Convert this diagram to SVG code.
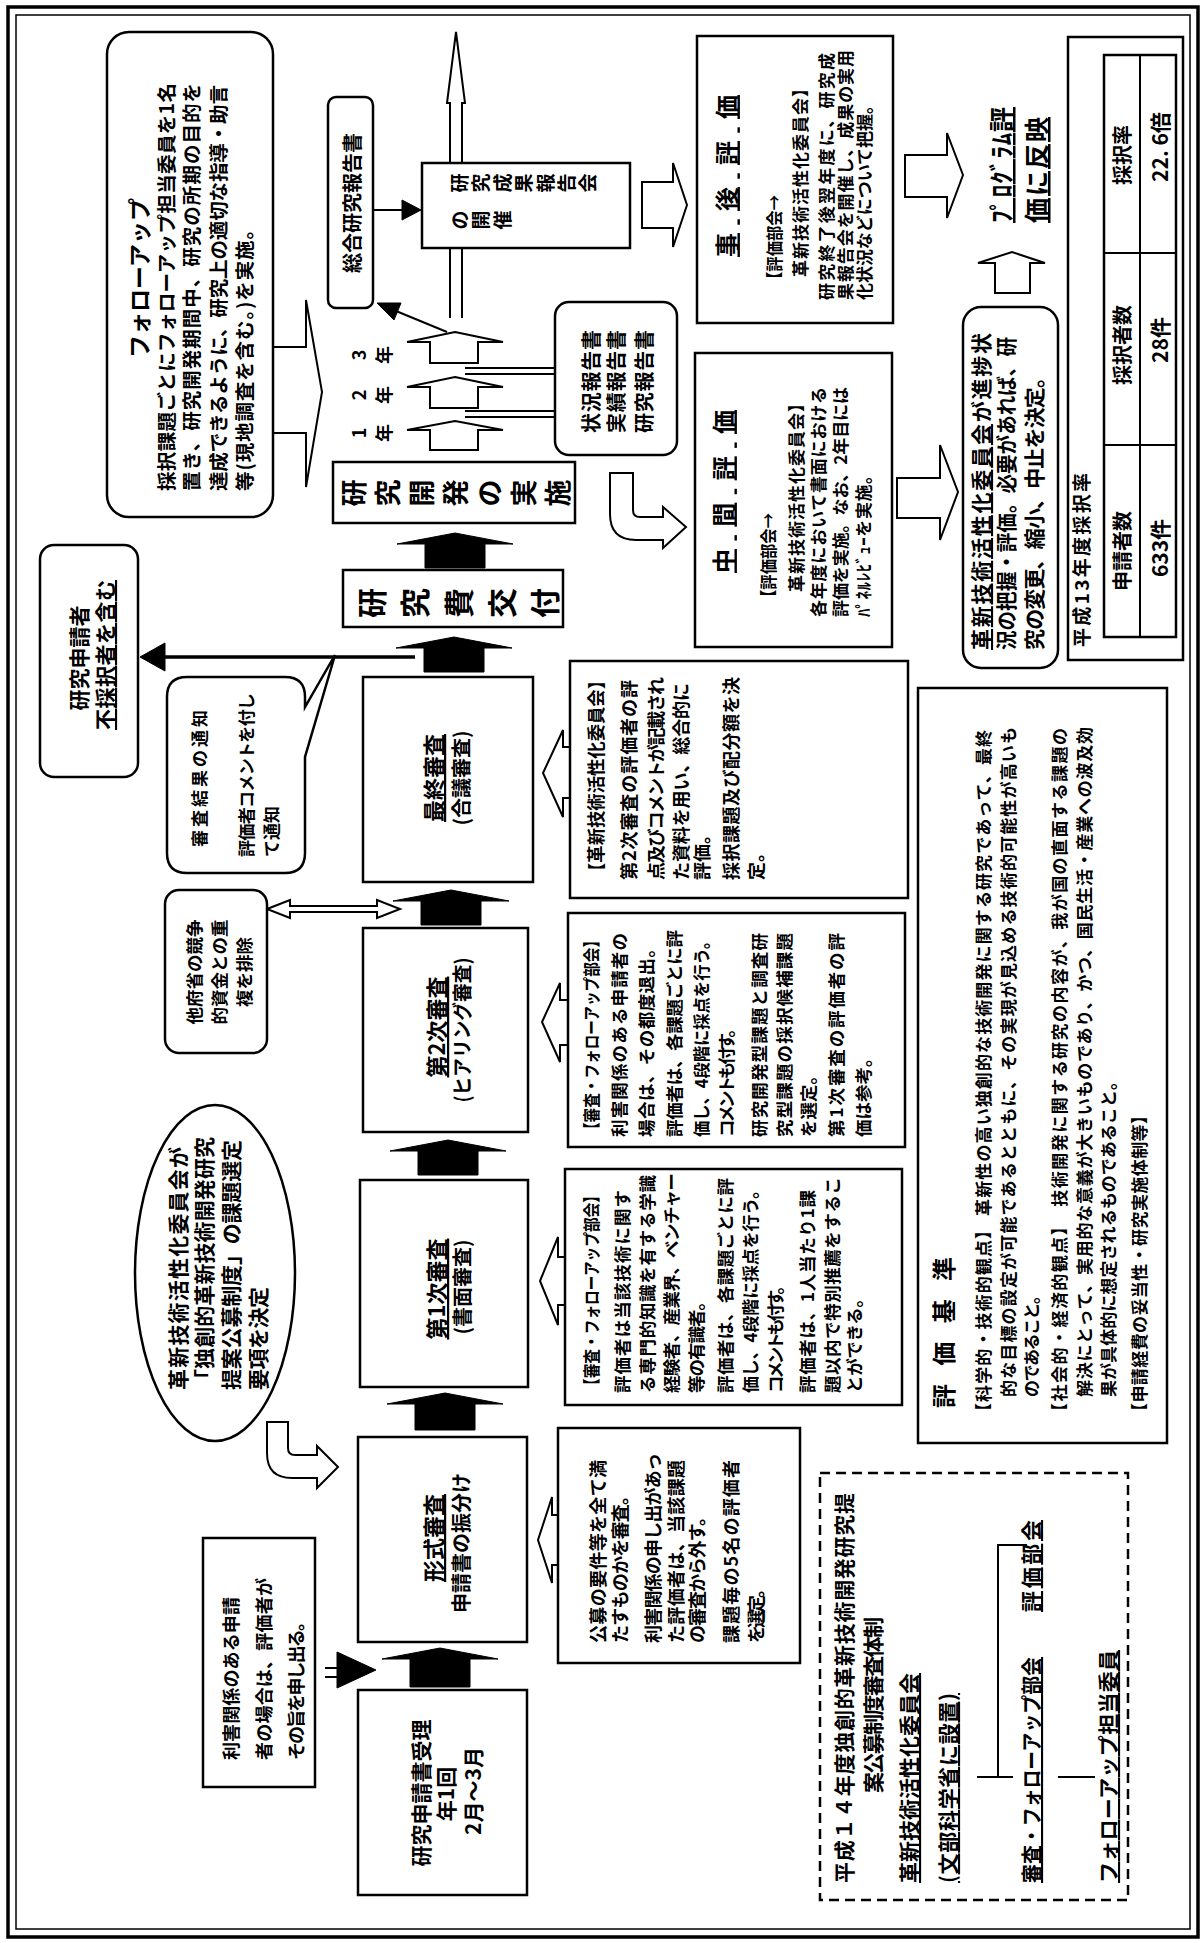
<svg xmlns="http://www.w3.org/2000/svg" width="1204" height="1943" viewBox="0 0 1204 1943">
<defs>
<style>
.t{font-family:'Noto Sans CJK JP','Noto Sans CJK SC',sans-serif;font-weight:700;dominant-baseline:central;fill:#000}
.b{fill:#fff;stroke:#000;stroke-width:2.5}
.h{fill:#fff;stroke:#000;stroke-width:2;stroke-linejoin:miter}
.k{fill:#000;stroke:#000;stroke-width:1}
.ln{fill:none;stroke:#000;stroke-width:2}
.u{text-decoration:underline}
.m{text-anchor:middle}
</style>
</defs>
<rect width="1204" height="1943" fill="#fff"/>
<g id="border">
<rect x="8" y="7" width="1190" height="1930" fill="none" stroke="#000" stroke-width="3.5"/>
<rect x="16" y="15" width="1174" height="1914" fill="none" stroke="#000" stroke-width="1.5"/>
</g>
<g id="connectors">
<path class="h" d="M450,318 L450,103 L447,103 L456,32 L465,103 L462,103 L462,318"/>
<path class="h" d="M273,347 L306,347 L306,300 L322,392 L306,487 L306,433 L273,433"/>
<path class="ln" d="M373,210 L404,210"/><polygon class="k" points="402,200 421,210 402,220"/>
<path class="ln" d="M447,332 L396,311"/><polygon class="k" points="377,303 401,303 394,320"/>
<path class="h" d="M642,182 L673,182 L673,163 L687,205 L673,247 L673,228 L642,228 Z"/>
<path class="ln" d="M465,368 L557,368 M465,374 L557,374 M465,411 L557,411 M465,417 L557,417"/>
<polygon class="h" points="455,332 503,342 478,342 478,363 430,363 430,342 407,342"/>
<polygon class="h" points="455,377 503,387 478,387 478,408 430,408 430,387 407,387"/>
<polygon class="h" points="455,421 503,430 478,430 478,450 430,450 430,430 407,430"/>
<path class="h" d="M610,473 L633,473 L633,510 Q633,517 640,517 L663,517 L663,507 L686,527 L663,548 L663,540 L636,540 Q610,540 610,514 Z"/>
<polygon class="k" points="455,533 513,544 485,544 485,568 425,568 425,544 397,544"/>
<polygon class="k" points="454,637 512,648 484,648 484,672 424,672 424,648 396,648"/>
<polygon class="k" points="451,890 509,901 481,901 481,925 421,925 421,901 393,901"/>
<polygon class="k" points="448,1140 506,1151 478,1151 478,1175 418,1175 418,1151 390,1151"/>
<polygon class="k" points="445,1393 503,1404 475,1404 475,1430 415,1430 415,1404 387,1404"/>
<polygon class="k" points="440,1648 498,1659 470,1659 470,1687 410,1687 410,1659 382,1659"/>
<path d="M415,657 L160,657" fill="none" stroke="#000" stroke-width="3.5"/><polygon class="k" points="140,657 165,643 165,671"/>
<path class="ln" d="M325,1668 L339,1668 M325,1677 L339,1677"/><polygon class="k" points="337,1652 376,1670 337,1688"/>
<path class="h" d="M267,1422 L288,1422 L288,1448 Q288,1455 295,1455 L317,1455 L317,1446 L338,1467 L317,1488 L317,1478 L292,1478 Q267,1478 267,1453 Z"/>
<path class="h" d="M570,747 L563,747 L563,730 L543,773 L563,817 L563,798 L570,798"/>
<path class="h" d="M568,1000 L560,1000 L560,983 L542,1022 L560,1062 L560,1045 L568,1045"/>
<path class="h" d="M565,1257 L558,1257 L558,1237 L540,1281 L558,1325 L558,1305 L565,1305"/>
<path class="h" d="M558,1515 L552,1515 L552,1497 L538,1540 L552,1583 L552,1565 L558,1565"/>
<path class="h" d="M267,909 L290,900 L290,906 L377,906 L377,900 L400,909 L377,918 L377,912 L290,912 L290,918 Z"/>
<path class="h" d="M897,478 L940,478 L940,445 L958,492 L940,540 L940,518 L897,518 Z"/>
<path class="h" d="M905,155 L947,155 L947,133 L963,175 L947,218 L947,197 L905,197 Z"/>
<path class="h" d="M995,293 L995,263 L978,263 L1012,252 L1045,263 L1030,263 L1030,293 Z"/>
<path class="ln" d="M977,1777 L1013,1777 M998,1777 L998,1545 L1027,1545 M1058,1777 L1095,1777"/>
</g>
<g id="followup">
<rect class="b" x="107" y="32" width="166" height="485" rx="22"/>
<g transform="matrix(0,-1,1,0,0,1943)">
<text class="t m" x="1665" y="138" font-size="23">フォローアップ</text>
<text class="t" x="1452" y="165" font-size="19.5" textLength="408">採択課題ごとにフォローアップ担当委員を1名</text>
<text class="t" x="1452" y="190" font-size="19.5" textLength="408">置き、研究開発期間中、研究の所期の目的を</text>
<text class="t" x="1452" y="217" font-size="19.5" textLength="406">達成できるように、研究上の適切な指導・助言</text>
<text class="t" x="1452" y="243" font-size="19.5" textLength="271">等(現地調査を含む。)を実施。</text>
</g>
</g>
<g id="sogo">
<rect class="b" x="328" y="97" width="45" height="211" rx="8"/>
<g transform="matrix(0,-1,1,0,0,1943)"><text class="t m" x="1740" y="351" font-size="20">総合研究報告書</text></g>
</g>
<g id="houkokukai">
<rect class="b" x="422" y="163" width="208" height="85"/>
<g transform="matrix(0,-1,1,0,0,1943)">
<text class="t m" font-size="19"><tspan x="1760" y="458">研</tspan><tspan x="1760" y="479">究</tspan><tspan x="1760" y="501">成</tspan><tspan x="1760" y="522">果</tspan><tspan x="1760" y="544">報</tspan><tspan x="1760" y="565">告</tspan><tspan x="1760" y="586">会</tspan></text>
<text class="t m" font-size="19"><tspan x="1723" y="458">の</tspan><tspan x="1723" y="479">開</tspan><tspan x="1723" y="501">催</tspan></text>
</g>
</g>
<g id="years">
<g transform="matrix(0,-1,1,0,0,1943)">
<text class="t m" font-size="18"><tspan x="1510" y="358">1</tspan><tspan x="1510" y="383">年</tspan></text>
<text class="t m" font-size="18"><tspan x="1548" y="358">2</tspan><tspan x="1548" y="383">年</tspan></text>
<text class="t m" font-size="18"><tspan x="1588" y="358">3</tspan><tspan x="1588" y="383">年</tspan></text>
</g>
</g>
<g id="jokyo">
<rect class="b" x="555" y="302" width="122" height="153" rx="14"/>
<g transform="matrix(0,-1,1,0,0,1943)">
<text class="t" x="1510" y="590" font-size="20" textLength="103">状況報告書</text>
<text class="t" x="1510" y="615" font-size="20" textLength="103">実績報告書</text>
<text class="t" x="1510" y="643" font-size="20" textLength="103">研究報告書</text>
</g>
</g>
<g id="jigo">
<rect class="b" x="697" y="36" width="196" height="287"/>
<g transform="matrix(0,-1,1,0,0,1943)">
<text class="t u" x="1686" y="725" font-size="24" textLength="162">事 後 評 価</text>
<text class="t" x="1656" y="773" font-size="17" textLength="92" lengthAdjust="spacingAndGlyphs">【評価部会→</text>
<text class="t" x="1666" y="799" font-size="17" textLength="197">革新技術活性化委員会】</text>
<text class="t" x="1643" y="825" font-size="17" textLength="247">研究終了後翌年度に、研究成</text>
<text class="t" x="1643" y="844" font-size="17" textLength="250">果報告会を開催し、成果の実用</text>
<text class="t" x="1643" y="863" font-size="17" textLength="203">化状況などについて把握。</text>
</g>
</g>
<g id="jisshi">
<rect class="b" x="333" y="462" width="242" height="61"/>
<g transform="matrix(0,-1,1,0,0,1943)">
<text class="t m" font-size="27"><tspan x="1450" y="352">研</tspan><tspan x="1450" y="386">究</tspan><tspan x="1450" y="420">開</tspan><tspan x="1450" y="454">発</tspan><tspan x="1450" y="488">の</tspan><tspan x="1450" y="522">実</tspan><tspan x="1450" y="556">施</tspan></text>
</g>
</g>
<g id="kofu">
<rect class="b" x="343" y="570" width="220" height="57"/>
<g transform="matrix(0,-1,1,0,0,1943)">
<text class="t m" font-size="30"><tspan x="1340" y="370">研</tspan><tspan x="1340" y="413">究</tspan><tspan x="1340" y="457">費</tspan><tspan x="1340" y="500">交</tspan><tspan x="1340" y="543">付</tspan></text>
</g>
</g>
<g id="chukan">
<rect class="b" x="695" y="353" width="197" height="294"/>
<g transform="matrix(0,-1,1,0,0,1943)">
<text class="t u" x="1370" y="722" font-size="24" textLength="163">中 間 評 価</text>
<text class="t" x="1338" y="767" font-size="17" textLength="92" lengthAdjust="spacingAndGlyphs">【評価部会→</text>
<text class="t" x="1351" y="795" font-size="17" textLength="197">革新技術活性化委員会】</text>
<text class="t" x="1326" y="817" font-size="17" textLength="230">各年度において書面における</text>
<text class="t" x="1326" y="839" font-size="17" textLength="230">評価を実施。なお、2年目には</text>
<text class="t" x="1326" y="862" font-size="17" textLength="150">ﾊﾟﾈﾙﾚﾋﾞｭｰを実施。</text>
</g>
</g>
<g id="shinchoku">
<rect class="b" x="963" y="307" width="95" height="361" rx="18"/>
<g transform="matrix(0,-1,1,0,0,1943)">
<text class="t" x="1293" y="980" font-size="21" textLength="317"><tspan class="u">革新技術活性化委員会</tspan>が進捗状</text>
<text class="t" x="1293" y="1005" font-size="21" textLength="313" lengthAdjust="spacingAndGlyphs">況の把握・評価。必要があれば、研</text>
<text class="t" x="1293" y="1033" font-size="21" textLength="283">究の変更、縮小、中止を決定。</text>
</g>
</g>
<g id="program">
<g transform="matrix(0,-1,1,0,0,1943)">
<text class="t u" x="1720" y="1000" font-size="25" textLength="116">ﾌﾟﾛｸﾞﾗﾑ評</text>
<text class="t u" x="1720" y="1035" font-size="25" textLength="106">価に反映</text>
</g>
</g>
<g id="saitaku">
<rect class="b" x="1068" y="37" width="115" height="623"/>
<rect class="b" x="1104" y="55" width="72" height="582" stroke-width="3"/>
<path class="ln" d="M1140,55 L1140,637 M1104,253 L1176,253 M1104,445 L1176,445" stroke-width="2.5"/>
<g transform="matrix(0,-1,1,0,0,1943)">
<text class="t" x="1296" y="1080" font-size="19" font-weight="500" textLength="174">平成13年度採択率</text>
<text class="t m" x="1392" y="1121" font-size="20">申請者数</text>
<text class="t m" x="1598" y="1121" font-size="20">採択者数</text>
<text class="t m" x="1788" y="1121" font-size="20">採択率</text>
<text class="t m" x="1395" y="1159" font-size="21">633件</text>
<text class="t m" x="1603" y="1159" font-size="21">28件</text>
<text class="t m" x="1796" y="1159" font-size="21">22. 6倍</text>
</g>
</g>
<g id="kijun">
<rect class="b" x="918" y="688" width="249" height="755"/>
<g transform="matrix(0,-1,1,0,0,1943)">
<text class="t" x="535" y="942" font-size="24" textLength="151">評　価　基　準</text>
<text class="t" x="523" y="982" font-size="17" textLength="690">【科学的・技術的観点】 革新性の高い独創的な技術開発に関する研究であって、最終</text>
<text class="t" x="546" y="1007" font-size="17" textLength="670">的な目標の設定が可能であるとともに、その実現が見込める技術的可能性が高いも</text>
<text class="t" x="546" y="1030" font-size="17" textLength="110">のであること。</text>
<text class="t" x="523" y="1058" font-size="17" textLength="692">【社会的・経済的観点】　技術開発に関する研究の内容が、我が国の直面する課題の</text>
<text class="t" x="546" y="1083" font-size="17" textLength="670">解決にとって、実用的な意義が大きいものであり、かつ、国民生活・産業への波及効</text>
<text class="t" x="546" y="1107" font-size="17" textLength="324">果が具体的に想定されるものであること。</text>
<text class="t" x="523" y="1138" font-size="17" textLength="313">【申請経費の妥当性・研究実施体制等】</text>
</g>
</g>
<g id="taisei">
<rect x="820" y="1473" width="308" height="427" fill="none" stroke="#000" stroke-width="2.5" stroke-dasharray="10 6"/>
<g transform="matrix(0,-1,1,0,0,1943)">
<text class="t" x="60" y="843" font-size="21" textLength="390">平成１４年度独創的革新技術開発研究提</text>
<text class="t" x="150" y="872" font-size="21" textLength="176">案公募制度審査体制</text>
<text class="t u" x="60" y="908" font-size="21" textLength="210">革新技術活性化委員会</text>
<text class="t u" x="60" y="947" font-size="21" textLength="190">(文部科学省に設置)</text>
<text class="t u" x="60" y="1030" font-size="21" textLength="226" lengthAdjust="spacingAndGlyphs">審査・フォローアップ部会</text>
<text class="t u" x="331" y="1030" font-size="21" textLength="92">評価部会</text>
<text class="t u" x="60" y="1107" font-size="21" textLength="233">フォローアップ担当委員</text>
</g>
</g>
<g id="juri">
<rect class="b" x="358" y="1690" width="169" height="205"/>
<g transform="matrix(0,-1,1,0,0,1943)">
<text class="t m" x="150" y="420" font-size="21">研究申請書受理</text>
<text class="t m" x="149" y="445" font-size="21">年1回</text>
<text class="t m" x="152" y="472" font-size="21">2月～3月</text>
</g>
</g>
<g id="keishiki">
<rect class="b" x="358" y="1437" width="169" height="205"/>
<g transform="matrix(0,-1,1,0,0,1943)">
<text class="t m u" x="405" y="432" font-size="22">形式審査</text>
<text class="t m" x="400" y="460" font-size="20">申請書の振分け</text>
</g>
</g>
<g id="shinsa1">
<rect class="b" x="360" y="1180" width="168" height="207"/>
<g transform="matrix(0,-1,1,0,0,1943)">
<text class="t m u" x="654" y="435" font-size="22">第1次審査</text>
<text class="t m" x="656" y="461" font-size="20">(書面審査)</text>
</g>
</g>
<g id="shinsa2">
<rect class="b" x="363" y="928" width="165" height="204"/>
<g transform="matrix(0,-1,1,0,0,1943)">
<text class="t m u" x="916" y="435" font-size="22">第2次審査</text>
<text class="t m" x="913" y="461" font-size="20" textLength="145" lengthAdjust="spacingAndGlyphs">(ヒアリング審査)</text>
</g>
</g>
<g id="saishu">
<rect class="b" x="363" y="677" width="170" height="205"/>
<g transform="matrix(0,-1,1,0,0,1943)">
<text class="t m u" x="1165" y="432" font-size="22">最終審査</text>
<text class="t m" x="1165" y="460" font-size="20">(合議審査)</text>
</g>
</g>
<g id="rigai">
<rect class="b" x="203" y="1538" width="112" height="249"/>
<g transform="matrix(0,-1,1,0,0,1943)">
<text class="t" x="183" y="230" font-size="18" textLength="163">利害関係のある申請</text>
<text class="t" x="183" y="263" font-size="18" textLength="182">者の場合は、評価者が</text>
<text class="t" x="183" y="295" font-size="18" textLength="147">その旨を申し出る。</text>
</g>
</g>
<g id="youkou">
<ellipse class="b" cx="215" cy="1273" rx="80" ry="168"/>
<g transform="matrix(0,-1,1,0,0,1943)">
<text class="t" x="553" y="177" font-size="21" textLength="243">革新技術活性化委員会が</text>
<text class="t" x="553" y="203" font-size="21" textLength="253">「独創的革新技術開発研究</text>
<text class="t" x="553" y="230" font-size="21" textLength="250">提案公募制度」の課題選定</text>
<text class="t" x="553" y="257" font-size="21" textLength="103">要項を決定</text>
</g>
</g>
<g id="tafusho">
<rect class="b" x="165" y="890" width="102" height="163" rx="14"/>
<g transform="matrix(0,-1,1,0,0,1943)">
<text class="t m" x="971" y="193" font-size="17.5">他府省の競争</text>
<text class="t m" x="971" y="218" font-size="17.5">的資金との重</text>
<text class="t m" x="971" y="243" font-size="17.5">複を排除</text>
</g>
</g>
<g id="tsuchi">
<path class="b" d="M187,677 L285,677 Q305,677 305,697 L305,707 L335,655 L305,757 L305,853 Q305,873 285,873 L187,873 Q167,873 167,853 L167,697 Q167,677 187,677 Z"/>
<g transform="matrix(0,-1,1,0,0,1943)">
<text class="t" x="1096" y="198" font-size="17" textLength="137">審査結果の通知</text>
<text class="t" x="1086" y="245" font-size="17" textLength="164">評価者コメントを付し</text>
<text class="t" x="1086" y="270" font-size="17">て通知</text>
</g>
</g>
<g id="shinseisha">
<rect class="b" x="40" y="545" width="98" height="232" rx="14"/>
<g transform="matrix(0,-1,1,0,0,1943)">
<text class="t m" x="1285" y="78" font-size="21">研究申請者</text>
<text class="t m u" x="1288" y="104" font-size="21" textLength="150">不採択者を含む</text>
</g>
</g>
<g id="c-saishu">
<rect class="b" x="570" y="661" width="338" height="237"/>
<g transform="matrix(0,-1,1,0,0,1943)">
<text class="t" x="1063" y="595" font-size="18" textLength="208" lengthAdjust="spacingAndGlyphs">【革新技術活性化委員会】</text>
<text class="t" x="1063" y="628" font-size="18" textLength="200">第2次審査の評価者の評</text>
<text class="t" x="1063" y="655" font-size="18" textLength="203">点及びコメントが記載され</text>
<text class="t" x="1063" y="680" font-size="18" textLength="197">た資料を用い、総合的に</text>
<text class="t" x="1063" y="701" font-size="18">評価。</text>
<text class="t" x="1063" y="730" font-size="18" textLength="203">採択課題及び配分額を決</text>
<text class="t" x="1063" y="755" font-size="18">定。</text>
</g>
</g>
<g id="c-shinsa2">
<rect class="b" x="568" y="913" width="337" height="234"/>
<g transform="matrix(0,-1,1,0,0,1943)">
<text class="t" x="806" y="590" font-size="17.5" textLength="204" lengthAdjust="spacingAndGlyphs">【審査・フォローアップ部会】</text>
<text class="t" x="806" y="618" font-size="17.5" textLength="204">利害関係のある申請者の</text>
<text class="t" x="806" y="645" font-size="17.5" textLength="197">場合は、その都度退出。</text>
<text class="t" x="806" y="673" font-size="17.5" textLength="207">評価者は、各課題ごとに評</text>
<text class="t" x="806" y="700" font-size="17.5" textLength="204" lengthAdjust="spacingAndGlyphs">価し、4段階に採点を行う。</text>
<text class="t" x="806" y="725" font-size="17.5" textLength="117">コメントも付す。</text>
<text class="t" x="806" y="758" font-size="17.5" textLength="204">研究開発型課題と調査研</text>
<text class="t" x="806" y="783" font-size="17.5" textLength="204">究型課題の採択候補課題</text>
<text class="t" x="806" y="807" font-size="17.5">を選定。</text>
<text class="t" x="806" y="835" font-size="17.5" textLength="204">第1次審査の評価者の評</text>
<text class="t" x="806" y="862" font-size="17.5">価は参考。</text>
</g>
</g>
<g id="c-shinsa1">
<rect class="b" x="565" y="1169" width="337" height="236"/>
<g transform="matrix(0,-1,1,0,0,1943)">
<text class="t" x="550" y="590" font-size="17.5" textLength="205" lengthAdjust="spacingAndGlyphs">【審査・フォローアップ部会】</text>
<text class="t" x="550" y="621" font-size="17.5" textLength="203">評価者は当該技術に関す</text>
<text class="t" x="550" y="646" font-size="17.5" textLength="218">る専門的知識を有する学識</text>
<text class="t" x="550" y="670" font-size="17.5" textLength="220">経験者、産業界、ベンチャー</text>
<text class="t" x="550" y="695" font-size="17.5" textLength="100">等の有識者。</text>
<text class="t" x="550" y="724" font-size="17.5" textLength="215">評価者は、各課題ごとに評</text>
<text class="t" x="550" y="749" font-size="17.5" textLength="211" lengthAdjust="spacingAndGlyphs">価し、4段階に採点を行う。</text>
<text class="t" x="550" y="774" font-size="17.5" textLength="116">コメントも付す。</text>
<text class="t" x="550" y="806" font-size="17.5" textLength="203">評価者は、1人当たり1課</text>
<text class="t" x="550" y="831" font-size="17.5" textLength="216">題以内で特別推薦をするこ</text>
<text class="t" x="550" y="853" font-size="17.5" textLength="103">とができる。</text>
</g>
</g>
<g id="c-keishiki">
<rect class="b" x="558" y="1428" width="242" height="235"/>
<g transform="matrix(0,-1,1,0,0,1943)">
<text class="t" x="300" y="597" font-size="18" textLength="183">公募の要件等を全て満</text>
<text class="t" x="300" y="619" font-size="18" textLength="156">たすものかを審査。</text>
<text class="t" x="300" y="652" font-size="18" textLength="190">利害関係の申し出があっ</text>
<text class="t" x="300" y="675" font-size="18" textLength="183">た評価者は、当該課題</text>
<text class="t" x="300" y="696" font-size="18" textLength="135">の審査から外す。</text>
<text class="t" x="300" y="730" font-size="18" textLength="183">課題毎の5名の評価者</text>
<text class="t" x="300" y="755" font-size="18" textLength="63">を選定。</text>
</g>
</g>
</svg>
